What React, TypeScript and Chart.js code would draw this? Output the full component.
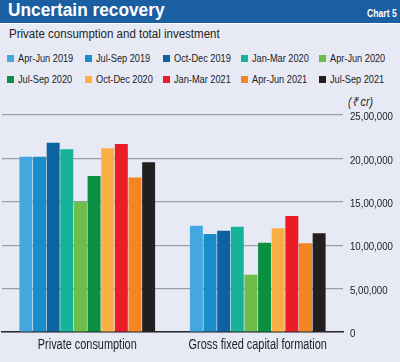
import React, { useEffect, useRef } from "react";
import { Chart, registerables } from "chart.js";

Chart.register(...registerables);

const categories = ["Private consumption", "Gross fixed capital formation"];
const quarters = [
  "Apr-Jun 2019",
  "Jul-Sep 2019",
  "Oct-Dec 2019",
  "Jan-Mar 2020",
  "Apr-Jun 2020",
  "Jul-Sep 2020",
  "Oct-Dec 2020",
  "Jan-Mar 2021",
  "Apr-Jun 2021",
  "Jul-Sep 2021",
];
const privateConsumption = [2020000, 2020000, 2180000, 2105000, 1500000, 1797000, 2116000, 2166000, 1780000, 1955000];
const grossFixedCapital = [1225000, 1129000, 1167000, 1213000, 660000, 1029000, 1194000, 1336000, 1022000, 1137000];
const colors = [
  "#43a8df",
  "#1a8ccb",
  "#0f62a1",
  "#16b29b",
  "#6cbd49",
  "#0b8f40",
  "#fbaf45",
  "#ea1c27",
  "#f58423",
  "#231f20",
];
const yTicks = [0, 500000, 1000000, 1500000, 2000000, 2500000];

const FONT = "'Liberation Sans', Arial, sans-serif";
const TEXT = "#222";

function indianFormat(n: number): string {
  const s = Math.round(n).toString();
  if (s.length <= 3) return s;
  const last3 = s.slice(-3);
  let rest = s.slice(0, -3);
  const parts: string[] = [];
  while (rest.length > 2) {
    parts.unshift(rest.slice(-2));
    rest = rest.slice(0, -2);
  }
  if (rest.length) parts.unshift(rest);
  return parts.join(",") + "," + last3;
}

// Draws condensed axis labels at positions given by the chart's own scales
const condensedLabels = {
  id: "condensedLabels",
  afterDraw(chart: any) {
    const { ctx, chartArea, scales } = chart;
    const xs = scales.x;
    const ys = scales.y;
    ctx.save();
    ctx.fillStyle = TEXT;
    ctx.font = `14px ${FONT}`;
    ctx.textAlign = "center";
    ctx.textBaseline = "alphabetic";
    categories.forEach((c, i) => {
      const x = xs.getPixelForValue(i);
      ctx.save();
      ctx.translate(x, chartArea.bottom + 17);
      ctx.scale(0.78, 1);
      ctx.fillText(c, 0, 0);
      ctx.restore();
    });
    ctx.font = `11.5px ${FONT}`;
    ctx.textAlign = "left";
    ctx.textBaseline = "middle";
    yTicks.forEach((v) => {
      const y = ys.getPixelForValue(v);
      ctx.save();
      ctx.translate(chartArea.right + 7, y + 2);
      ctx.scale(0.84, 1);
      ctx.fillText(indianFormat(v), 0, 0);
      ctx.restore();
    });
    ctx.restore();
  },
};

export default function App() {
  const ref = useRef<HTMLCanvasElement | null>(null);

  useEffect(() => {
    document.body.style.margin = "0";
    if (!ref.current) return;
    const chart = new Chart(ref.current, {
      type: "bar",
      data: {
        labels: categories,
        datasets: quarters.map((q, i) => ({
          label: q,
          data: [privateConsumption[i], grossFixedCapital[i]],
          backgroundColor: colors[i],
          borderWidth: 0,
          categoryPercentage: 0.8,
          barPercentage: 0.95,
        })),
      },
      options: {
        animation: false,
        responsive: false,
        maintainAspectRatio: false,
        layout: { padding: { left: 2, right: 57, top: 7, bottom: 30 } },
        plugins: {
          legend: { display: false },
          tooltip: { enabled: false },
          title: { display: false },
        },
        scales: {
          x: {
            grid: { display: false, drawTicks: false },
            border: { display: true, color: "#2a2a2a", width: 1.5 },
            ticks: { display: false },
          },
          y: {
            position: "right",
            min: 0,
            max: 2500000,
            afterBuildTicks: (axis: any) => {
              axis.ticks = yTicks.map((v) => ({ value: v }));
            },
            grid: { color: "#9b9ea9", lineWidth: 1.2, drawTicks: false },
            border: { display: false },
            ticks: { display: false },
          },
        },
      },
      plugins: [condensedLabels],
    });
    return () => chart.destroy();
  }, []);

  const cond = (sx: number): React.CSSProperties => ({
    display: "inline-block",
    transform: `scaleX(${sx})`,
    transformOrigin: "left center",
    whiteSpace: "nowrap",
  });

  return (
    <div
      style={{
        position: "relative",
        width: 400,
        height: 362,
        background: "#e7eaf4",
        overflow: "hidden",
        fontFamily: FONT,
      }}
    >
      <div
        style={{
          position: "absolute",
          left: 0,
          top: 0,
          width: 400,
          height: 23,
          background: "#1a5fa2",
          borderBottom: "1px solid #ffffff",
        }}
      >
        <div
          style={{
            position: "absolute",
            left: 8,
            top: -1,
            lineHeight: "23px",
            color: "#fff",
            fontWeight: "bold",
            fontSize: 18,
          }}
        >
          <span style={cond(0.96)}>Uncertain recovery</span>
        </div>
        <div
          style={{
            position: "absolute",
            left: 367,
            top: 0,
            lineHeight: "27px",
            color: "#fff",
            fontWeight: "bold",
            fontSize: 11.5,
          }}
        >
          <span style={cond(0.75)}>Chart 5</span>
        </div>
      </div>
      <div
        style={{
          position: "absolute",
          left: 9,
          top: 27,
          fontSize: 12,
          color: TEXT,
          lineHeight: "14px",
        }}
      >
        <span style={cond(0.96)}>Private consumption and total investment</span>
      </div>
      {quarters.map((q, i) => {
        const col = i % 5;
        const row = Math.floor(i / 5);
        return (
          <div
            key={q}
            style={{
              position: "absolute",
              left: 7 + col * 78,
              top: 51 + row * 21,
              height: 14,
              display: "flex",
              alignItems: "center",
              fontSize: 11.5,
              color: TEXT,
              whiteSpace: "nowrap",
            }}
          >
            <span
              style={{
                display: "inline-block",
                width: 7,
                height: 7,
                background: colors[i],
                marginRight: 4,
                flex: "none",
              }}
            />
            <span style={cond(0.8)}>{q}</span>
          </div>
        );
      })}
      <div
        style={{
          position: "absolute",
          left: 348,
          top: 95,
          fontSize: 12,
          lineHeight: "14px",
          fontStyle: "italic",
          color: TEXT,
        }}
      >
        <span style={cond(0.88)}>(₹ cr)</span>
      </div>
      <canvas
        ref={ref}
        width={400}
        height={254}
        style={{ position: "absolute", left: 0, top: 108, width: 400, height: 254 }}
      />
    </div>
  );
}
